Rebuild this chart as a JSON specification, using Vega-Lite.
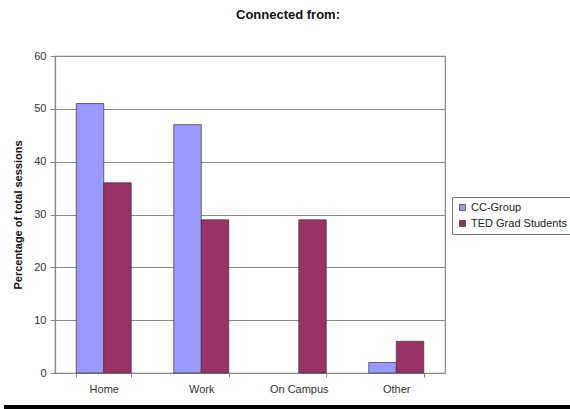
{
  "$schema": "https://vega.github.io/schema/vega-lite/v6.json",
  "width": 390,
  "height": 317,
  "autosize": {"type": "none"},
  "padding": {"left": 55, "top": 56, "right": 125, "bottom": 36},
  "background": "white",
  "config": {
    "font": "Liberation Sans",
    "view": {"stroke": "#888888", "strokeWidth": 1.2},
    "axis": {"labelFont": "Liberation Sans", "titleFont": "Liberation Sans"}
  },
  "title": {
    "text": "Connected from:",
    "anchor": "middle",
    "dx": 38,
    "offset": 28,
    "fontSize": 13,
    "fontWeight": "bold",
    "color": "#111111",
    "font": "Liberation Sans"
  },
  "data": {
    "values": [
      {"location": "Home", "group": "CC-Group", "pct": 51},
      {"location": "Home", "group": "TED Grad Students", "pct": 36},
      {"location": "Work", "group": "CC-Group", "pct": 47},
      {"location": "Work", "group": "TED Grad Students", "pct": 29},
      {"location": "On Campus", "group": "CC-Group", "pct": 0},
      {"location": "On Campus", "group": "TED Grad Students", "pct": 29},
      {"location": "Other", "group": "CC-Group", "pct": 2},
      {"location": "Other", "group": "TED Grad Students", "pct": 6}
    ]
  },
  "layer": [
    {
      "mark": {"type": "bar", "stroke": "#333333"},
      "encoding": {
        "x": {
          "field": "location",
          "type": "nominal",
          "sort": ["Home", "Work", "On Campus", "Other"],
          "scale": {"paddingInner": 0.436, "paddingOuter": 0.218},
          "axis": {
            "title": null,
            "labelAngle": 0,
            "labelFontSize": 11,
            "labelColor": "#333333",
            "labelPadding": 6,
            "tickBand": "extent",
            "tickSize": 4,
            "tickColor": "#888888",
            "domainColor": "#888888",
            "domainWidth": 1.2
          }
        },
        "xOffset": {"field": "group", "type": "nominal", "sort": ["CC-Group", "TED Grad Students"]},
        "y": {
          "field": "pct",
          "type": "quantitative",
          "scale": {"domain": [0, 60], "nice": false},
          "axis": {
            "title": "Percentage of total sessions",
            "titleFontSize": 11,
            "titleFontWeight": "bold",
            "titleColor": "#111111",
            "titlePadding": 10,
            "values": [0, 10, 20, 30, 40, 50, 60],
            "labelFontSize": 11,
            "labelColor": "#333333",
            "labelPadding": 4,
            "tickSize": 5,
            "tickColor": "#888888",
            "domainColor": "#888888",
            "domainWidth": 1.2,
            "grid": true,
            "gridColor": "#8a8a8a",
            "gridWidth": 1.2
          }
        },
        "strokeWidth": {
          "condition": {"test": "datum.pct == 0", "value": 0},
          "value": 0.7
        },
        "color": {
          "field": "group",
          "type": "nominal",
          "sort": ["CC-Group", "TED Grad Students"],
          "scale": {"domain": ["CC-Group", "TED Grad Students"], "range": ["#9999FF", "#993366"]},
          "legend": {
            "title": null,
            "orient": "none",
            "legendX": 397,
            "legendY": 141,
            "symbolType": "square",
            "symbolSize": 36,
            "symbolStrokeColor": "#333333",
            "symbolStrokeWidth": 0.7,
            "labelFontSize": 11,
            "labelColor": "#222222",
            "labelOffset": 3,
            "rowPadding": 4,
            "padding": 5,
            "strokeColor": "#777777",
            "fillColor": "white"
          }
        }
      }
    },
    {
      "mark": {"type": "rule", "color": "black", "strokeWidth": 4, "clip": false},
      "encoding": {
        "x": {"datum": -0.13, "type": "quantitative", "scale": {"domain": [0, 1]}, "axis": null},
        "x2": {"datum": 1.33},
        "y": {"datum": -6.5, "type": "quantitative", "scale": {"domain": [0, 60], "nice": false}}
      }
    }
  ],
  "resolve": {"scale": {"x": "independent"}}
}
